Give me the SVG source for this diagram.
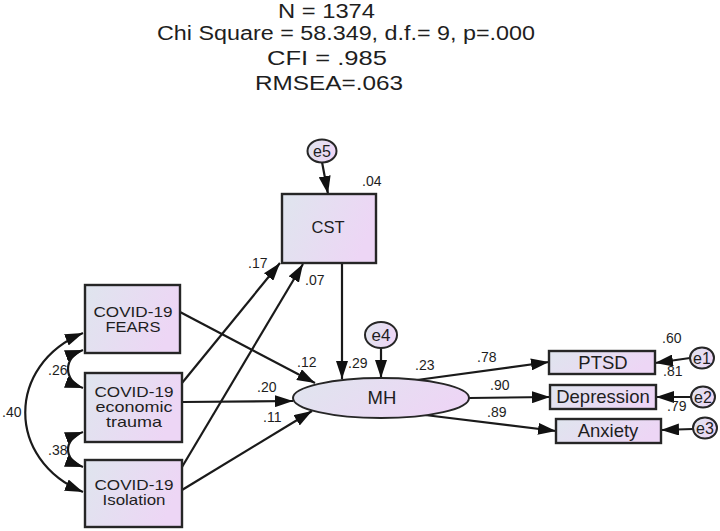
<svg xmlns="http://www.w3.org/2000/svg" width="720" height="531" viewBox="0 0 720 531">
<style>
text{font-family:"Liberation Sans",Arial,sans-serif;fill:#1e1e1e}
.t{font-size:20px}
.n{font-size:14.5px;text-anchor:middle}
.m{font-size:18.5px;text-anchor:middle}
.e{font-size:16px;text-anchor:middle}
.l{font-size:14px}
.box{fill:url(#g);stroke:#262626;stroke-width:2.4}
.err{fill:url(#g);stroke:#262626;stroke-width:2}
.c path{fill:none;stroke:#1a1a1a;stroke-width:2.2;marker-end:url(#ah)}
.c path.b{marker-start:url(#ah)}
</style>
<defs>
<linearGradient id="g" x1="0" y1="0" x2="1" y2="0.3">
<stop offset="0" stop-color="#dfe5ee"/>
<stop offset="1" stop-color="#edd6f5"/>
</linearGradient>
<marker id="ah" markerUnits="userSpaceOnUse" markerWidth="18" markerHeight="12" refX="18" refY="6" orient="auto-start-reverse">
<path d="M0,0 L18,6 L0,12 z" fill="#111"/>
</marker>
</defs>

<g id="title">
<text class="t" x="278" y="18" textLength="97" lengthAdjust="spacingAndGlyphs">N = 1374</text>
<text class="t" x="157" y="40" textLength="378" lengthAdjust="spacingAndGlyphs">Chi Square = 58.349, d.f.= 9, p=.000</text>
<text class="t" x="267" y="65" textLength="120" lengthAdjust="spacingAndGlyphs">CFI = .985</text>
<text class="t" x="255" y="90" textLength="148" lengthAdjust="spacingAndGlyphs">RMSEA=.063</text>
</g>

<g class="c" id="connectors">
<path d="M322,162 L328,194"/>
<path d="M182,383 L280,263"/>
<path d="M182,467 L303,264"/>
<path d="M180,312 L315,383"/>
<path d="M182,402 L293,401"/>
<path d="M182,490 L312,411"/>
<path d="M342,263 L342,379"/>
<path d="M381,348 L381,378"/>
<path d="M417,380 L549,362"/>
<path d="M469,398 L550,397"/>
<path d="M425,415 L556,431"/>
<path d="M690,358 L655,363"/>
<path d="M691,397 L656,397"/>
<path d="M693,429 L661,430"/>
<path class="b" d="M83,350 C63,357 63,381 83,388"/>
<path class="b" d="M83,432 C63,439 63,460 83,467"/>
<path class="b" d="M83,333 C6,365 6,460 83,492"/>
</g>

<g id="e5"><ellipse class="err" cx="322" cy="151" rx="14.5" ry="11.5"/><text class="e" x="322" y="157">e5</text></g>
<g id="CST"><rect class="box" x="282" y="194" width="94" height="69"/><text class="n" x="328" y="233" style="font-size:16.5px">CST</text></g>
<g id="FEARS"><rect class="box" x="85" y="285" width="95" height="68"/><text class="n" x="133" y="317" textLength="79" lengthAdjust="spacingAndGlyphs">COVID-19</text><text class="n" x="133" y="332" textLength="55" lengthAdjust="spacingAndGlyphs">FEARS</text></g>
<g id="economic"><rect class="box" x="85" y="373" width="97" height="69"/><text class="n" x="134" y="397" textLength="79" lengthAdjust="spacingAndGlyphs">COVID-19</text><text class="n" x="134" y="412" textLength="77" lengthAdjust="spacingAndGlyphs">economic</text><text class="n" x="134" y="427" textLength="56" lengthAdjust="spacingAndGlyphs">trauma</text></g>
<g id="Isolation"><rect class="box" x="85" y="460" width="97" height="67"/><text class="n" x="134" y="490" textLength="79" lengthAdjust="spacingAndGlyphs">COVID-19</text><text class="n" x="134" y="505" textLength="63" lengthAdjust="spacingAndGlyphs">Isolation</text></g>
<g id="e4"><ellipse class="err" cx="381" cy="335" rx="16" ry="13"/><text class="e" x="381" y="341" style="font-size:17px">e4</text></g>
<g id="MH"><ellipse class="err" cx="381" cy="398" rx="88" ry="20"/><text class="m" x="382" y="404">MH</text></g>
<g id="PTSD"><rect class="box" x="549" y="351" width="106" height="23"/><text class="m" x="603" y="369">PTSD</text></g>
<g id="Depression"><rect class="box" x="550" y="385" width="106" height="24"/><text class="m" x="603" y="403">Depression</text></g>
<g id="Anxiety"><rect class="box" x="556" y="419" width="105" height="24"/><text class="m" x="608" y="437">Anxiety</text></g>
<g id="e1"><ellipse class="err" cx="702" cy="358" rx="12" ry="10.5"/><text class="e" x="702" y="364">e1</text></g>
<g id="e2"><ellipse class="err" cx="703" cy="397" rx="12" ry="10.5"/><text class="e" x="703" y="403">e2</text></g>
<g id="e3"><ellipse class="err" cx="705" cy="428" rx="12" ry="10.5"/><text class="e" x="705" y="434">e3</text></g>

<g id="labels">
<text class="l" x="362" y="186">.04</text>
<text class="l" x="248" y="268">.17</text>
<text class="l" x="305" y="285">.07</text>
<text class="l" x="297" y="367">.12</text>
<text class="l" x="348" y="368">.29</text>
<text class="l" x="415" y="370">.23</text>
<text class="l" x="257" y="392">.20</text>
<text class="l" x="263" y="422">.11</text>
<text class="l" x="477" y="362">.78</text>
<text class="l" x="490" y="390">.90</text>
<text class="l" x="487" y="417">.89</text>
<text class="l" x="662" y="343">.60</text>
<text class="l" x="663" y="376">.81</text>
<text class="l" x="667" y="411">.79</text>
<text class="l" x="48" y="375">.26</text>
<text class="l" x="48" y="455">.38</text>
<text class="l" x="2" y="417">.40</text>
</g>
</svg>
